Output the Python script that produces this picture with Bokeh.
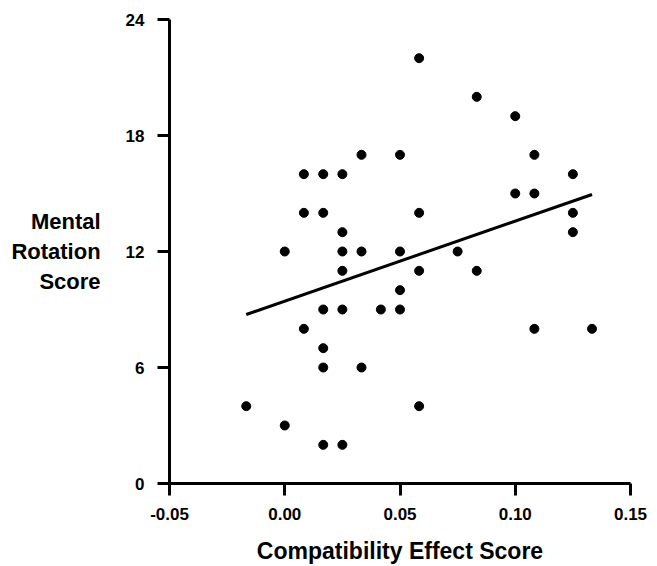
from bokeh.plotting import figure
from bokeh.models import FixedTicker, ColumnDataSource, Range1d
from bokeh.embed import file_html
from bokeh.resources import INLINE

# Data
compat_effect = [-0.0167,
                 0.0, 0.0,
                 0.0083, 0.0083, 0.0083,
                 0.0167, 0.0167, 0.0167, 0.0167, 0.0167, 0.0167,
                 0.025, 0.025, 0.025, 0.025, 0.025, 0.025,
                 0.0333, 0.0333, 0.0333,
                 0.0417,
                 0.05, 0.05, 0.05, 0.05,
                 0.0583, 0.0583, 0.0583, 0.0583,
                 0.075,
                 0.0833, 0.0833,
                 0.1, 0.1,
                 0.1083, 0.1083, 0.1083,
                 0.125, 0.125, 0.125,
                 0.1333]
mental_rotation = [4,
                   3, 12,
                   16, 14, 8,
                   16, 14, 9, 7, 6, 2,
                   16, 13, 12, 11, 9, 2,
                   17, 12, 6,
                   9,
                   17, 12, 10, 9,
                   22, 14, 11, 4,
                   12,
                   20, 11,
                   19, 15,
                   17, 15, 8,
                   16, 14, 13,
                   8]
fit_x = [-0.0167, 0.1333]
fit_y = [8.74, 14.95]

x_ticks = [-0.05, 0.0, 0.05, 0.10, 0.15]
y_ticks = [0, 6, 12, 18, 24]

FONT = "Liberation Sans"

p = figure(width=657, height=566, output_backend="svg", toolbar_location=None,
           x_range=Range1d(-0.05, 0.15), y_range=Range1d(0, 24),
           min_border_left=169, min_border_right=27, min_border_top=19,
           min_border_bottom=82)
p.outline_line_color = None
p.xgrid.visible = False
p.ygrid.visible = False
p.background_fill_color = "white"

p.line(fit_x, fit_y, line_color="black", line_width=3)
src = ColumnDataSource(dict(x=compat_effect, y=mental_rotation))
p.scatter("x", "y", source=src, size=9, fill_color="black", line_color="black")

for ax in (p.xaxis[0], p.yaxis[0]):
    ax.axis_line_width = 3
    ax.axis_line_color = "black"
    ax.major_tick_line_width = 3
    ax.major_tick_line_color = "black"
    ax.major_tick_out = 12
    ax.major_tick_in = 0
    ax.minor_tick_line_color = None
    ax.major_label_text_font = FONT
    ax.major_label_text_font_style = "bold"
    ax.major_label_text_font_size = "17px"
    ax.major_label_text_color = "black"
    ax.axis_label_text_font = FONT
    ax.axis_label_text_font_style = "bold"
    ax.axis_label_text_font_size = "23px"
    ax.axis_label_text_color = "black"

p.xaxis[0].ticker = FixedTicker(ticks=x_ticks)
p.xaxis[0].major_label_overrides = {t: f"{t:.2f}" for t in x_ticks}
p.xaxis[0].major_label_standoff = 12
p.xaxis[0].axis_label = "Compatibility Effect Score"
p.xaxis[0].axis_label_standoff = 15

p.yaxis[0].ticker = FixedTicker(ticks=y_ticks)
p.yaxis[0].major_label_standoff = 13
p.yaxis[0].axis_label = "Mental\nRotation\nScore"
p.yaxis[0].axis_label_orientation = "horizontal"
p.yaxis[0].axis_label_standoff = 22
p.yaxis[0].axis_label_text_align = "center"
p.yaxis[0].axis_label_text_font_size = "22px"

open("out.html", "w").write(file_html(p, INLINE))
